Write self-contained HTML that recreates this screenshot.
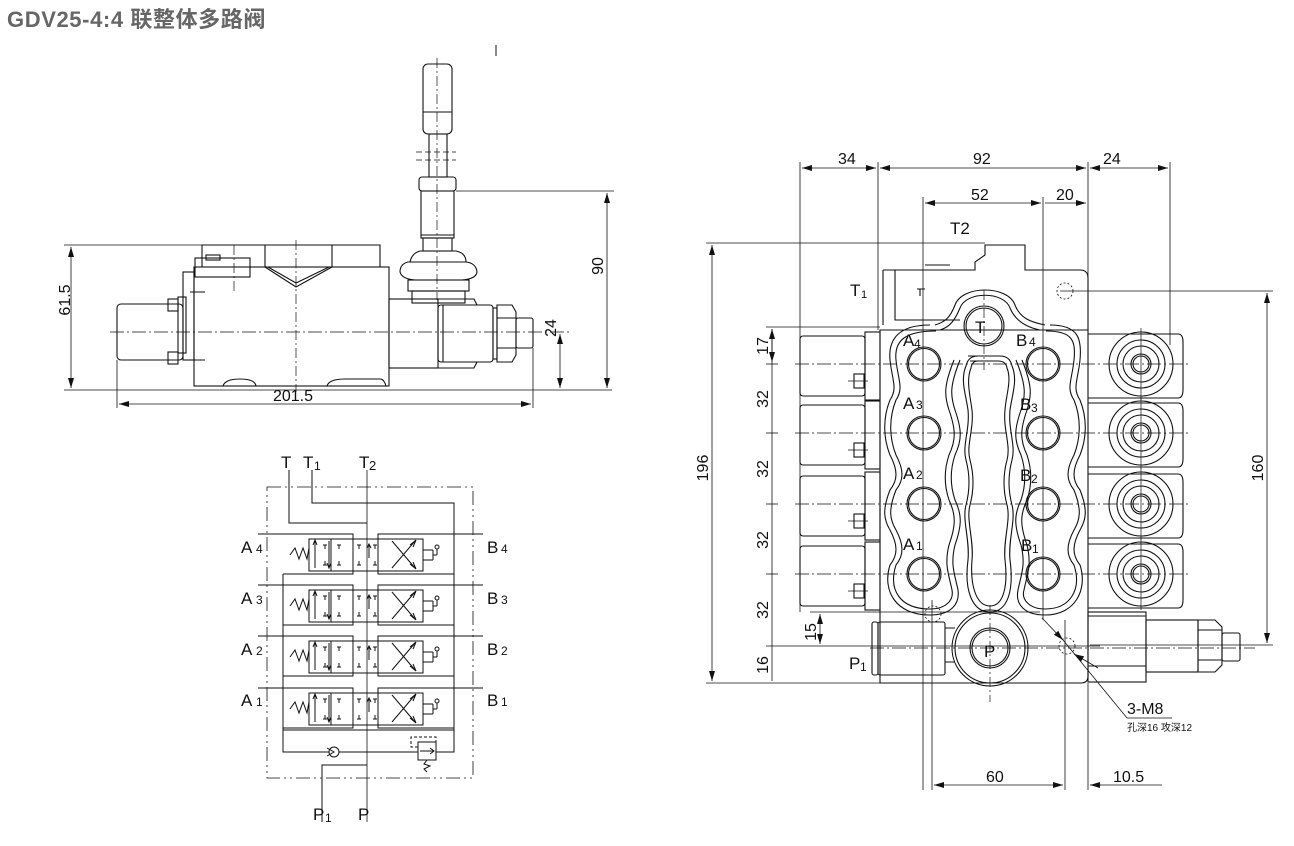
<!DOCTYPE html>
<html><head><meta charset="utf-8"><style>
html,body{margin:0;padding:0;background:#fff;}
svg{display:block;}
text{font-family:"Liberation Sans Narrow","Liberation Sans","Noto Sans CJK SC",sans-serif;fill:#111;}
</style></head><body>
<svg id="s" width="1294" height="846" viewBox="0 0 1294 846" xmlns="http://www.w3.org/2000/svg">
<defs>
<marker id="a" viewBox="0 0 10 6" refX="10" refY="3" markerWidth="10" markerHeight="6" orient="auto-start-reverse" markerUnits="userSpaceOnUse"><path d="M0,0L10,3L0,6z" fill="#111"/></marker>
</defs>
<text x="7" y="27" style="font-family:'Liberation Sans','Noto Sans CJK SC',sans-serif;font-weight:bold;font-size:22px;letter-spacing:0.6px;fill:#666">GDV25-4:4 联整体多路阀</text>
<line x1="496" y1="45" x2="496" y2="56" stroke="#111"/>

<!-- ================= SIDE VIEW ================= -->
<g fill="none" stroke="#111" stroke-width="1.1">
<line x1="64" y1="245" x2="380" y2="245" stroke-width=".8"/>
<line x1="64" y1="390" x2="612" y2="390" stroke-width=".8"/>
<line x1="71" y1="247" x2="71" y2="388" marker-start="url(#a)" marker-end="url(#a)" stroke-width=".8"/>
<line x1="117" y1="360" x2="117" y2="408" stroke-width=".8"/>
<line x1="533" y1="348" x2="533" y2="408" stroke-width=".8"/>
<line x1="119" y1="404" x2="531" y2="404" marker-start="url(#a)" marker-end="url(#a)" stroke-width=".8"/>
<line x1="456" y1="191" x2="614" y2="191" stroke-width=".8"/>
<line x1="607" y1="193" x2="607" y2="388" marker-start="url(#a)" marker-end="url(#a)" stroke-width=".8"/>
<line x1="560" y1="334" x2="560" y2="388" marker-start="url(#a)" marker-end="url(#a)" stroke-width=".8"/>
<line x1="110" y1="332" x2="570" y2="332" stroke-dasharray="14 3 2 3" stroke-width=".7"/>
<path d="M202,267 V245 H380 V267"/>
<rect x="194" y="267" width="195" height="119" />
<rect x="195" y="258" width="55" height="19"/>
<rect x="206" y="255" width="14" height="5"/>
<path d="M265,245 V267 M332,245 V267 M265,267 L296,287 L332,267 M268,267 L296,283 L329,267"/>
<line x1="296" y1="240" x2="296" y2="392" stroke-dasharray="10 3 2 3" stroke-width=".7"/>
<line x1="234" y1="245" x2="234" y2="293" stroke-dasharray="10 3 2 3" stroke-width=".7"/>
<path d="M223,386 Q225,379 240,379 Q255,379 256,386 M327,386 Q329,379 345,379 H380 Q384,379 386,386"/>
<rect x="183" y="272" width="11" height="88"/>
<rect x="178" y="297" width="8" height="56"/>
<rect x="168" y="299" width="10" height="12"/><rect x="168" y="352" width="10" height="12"/>
<path d="M190,292 H205 M190,360 H205"/>
<rect x="117" y="304" width="66" height="56" rx="4"/>
<rect x="389" y="299" width="49" height="69"/>
<rect x="438" y="305" width="55" height="57" rx="3"/>
<path d="M438,299 H474 L477,305 M438,368 H474 L477,362 M443,305 V362"/>
<rect x="493" y="308" width="4" height="51"/>
<path d="M497,305 H512 L516,312 V355 L512,362 H497 Z M497,318 H516 M497,348 H516"/>
<rect x="516" y="318" width="17" height="30" rx="2"/>
<rect x="423" y="64" width="29" height="70" rx="5"/>
<line x1="423" y1="112" x2="452" y2="112"/>
<rect x="429" y="134" width="18" height="43"/>
<line x1="416" y1="152" x2="456" y2="152" stroke-dasharray="6 3" stroke-width=".7"/>
<line x1="416" y1="160" x2="456" y2="160" stroke-dasharray="6 3" stroke-width=".7"/>
<rect x="419" y="177" width="37" height="14" rx="3"/>
<rect x="421" y="191" width="33" height="47"/>
<line x1="421" y1="235" x2="454" y2="235"/>
<rect x="423" y="238" width="29" height="13"/>
<path d="M408,262 Q400,264 400,272 Q402,279 415,280 H462 Q476,279 477,272 Q476,263 466,262 Z"/>
<path d="M410,262 Q412,253 420,251 H456 Q466,253 466,262"/>
<rect x="408" y="280" width="61" height="11"/>
<rect x="412" y="291" width="53" height="12"/>
<line x1="437" y1="58" x2="437" y2="300" stroke-dasharray="10 3 2 3" stroke-width=".7"/>
</g>
<text x="293" y="401" font-size="16" text-anchor="middle">201.5</text>
<text transform="translate(70,300) rotate(-90)" font-size="16" text-anchor="middle">61.5</text>
<text transform="translate(603,266) rotate(-90)" font-size="16" text-anchor="middle">90</text>
<text transform="translate(556,328) rotate(-90)" font-size="16" text-anchor="middle">24</text>

<!-- ================= SCHEMATIC ================= -->
<g id="sch" fill="none" stroke="#111" stroke-width="1">
<rect x="267" y="487" width="206" height="291" stroke-dasharray="14 4 2 4 2 4" stroke-width=".8"/>
<line x1="367" y1="470" x2="367" y2="822" stroke-width=".8"/>
<path d="M289,470 V523 H367"/>
<path d="M312,470 V503 H454 V752 H436"/>
<path d="M283,574 V752 H418"/>
<path d="M283,730 H454"/>
<path d="M322,822 V765 H367"/>
<circle cx="334" cy="752" r="5" fill="#fff"/>
<path d="M327,748 L334,752 L327,756"/>
<rect x="418" y="742" width="18" height="18" fill="#fff"/>
<path d="M420,751 H434 M430,748 L434,751 L430,754"/>
<path d="M418,747 H411 V737 H436 V742" stroke-dasharray="3 2"/>
<path d="M427,760 L424,764 L430,766 L424,769 L427,772"/>
</g>
<g font-size="17">
<text x="281" y="468">T</text><text x="303" y="468">T</text><text x="314" y="470" font-size="12">1</text>
<text x="359" y="468">T</text><text x="369" y="470" font-size="13">2</text>
<text x="313" y="820">P</text><text x="325" y="822" font-size="12">1</text>
<text x="358" y="820">P</text>
<text x="241" y="553">A</text><text x="256" y="553" font-size="12">4</text>
<text x="241" y="604">A</text><text x="256" y="604" font-size="12">3</text>
<text x="241" y="655">A</text><text x="256" y="655" font-size="12">2</text>
<text x="241" y="706">A</text><text x="256" y="706" font-size="12">1</text>
<text x="487" y="553">B</text><text x="501" y="553" font-size="12">4</text>
<text x="487" y="604">B</text><text x="501" y="604" font-size="12">3</text>
<text x="487" y="655">B</text><text x="501" y="655" font-size="12">2</text>
<text x="487" y="706">B</text><text x="501" y="706" font-size="12">1</text>
</g>

<!-- ================= FRONT VIEW ================= -->
<g id="fr" fill="none" stroke="#111" stroke-width="1.1">
<g stroke-width=".8">
<line x1="800" y1="162" x2="800" y2="612"/><line x1="878" y1="162" x2="878" y2="330"/>
<line x1="1088" y1="162" x2="1088" y2="330"/><line x1="1170" y1="162" x2="1170" y2="345"/>
<line x1="802" y1="168" x2="876" y2="168" marker-start="url(#a)" marker-end="url(#a)"/>
<line x1="880" y1="168" x2="1086" y2="168" marker-start="url(#a)" marker-end="url(#a)"/>
<line x1="1090" y1="168" x2="1168" y2="168" marker-start="url(#a)" marker-end="url(#a)"/>
<line x1="923" y1="197" x2="923" y2="790"/><line x1="1043" y1="197" x2="1043" y2="620"/>
<line x1="925" y1="203" x2="1041" y2="203" marker-start="url(#a)" marker-end="url(#a)"/>
<line x1="1045" y1="203" x2="1086" y2="203" marker-end="url(#a)"/>
<line x1="706" y1="243" x2="985" y2="243"/><line x1="706" y1="683" x2="880" y2="683"/>
<line x1="712" y1="245" x2="712" y2="681" marker-start="url(#a)" marker-end="url(#a)"/>
<line x1="1060" y1="291" x2="1273" y2="291"/><line x1="1090" y1="645" x2="1273" y2="645"/>
<line x1="1267" y1="293" x2="1267" y2="643" marker-start="url(#a)" marker-end="url(#a)"/>
<line x1="766" y1="327" x2="880" y2="327"/>
<line x1="772" y1="329" x2="772" y2="681"/>
<line x1="810" y1="612" x2="1040" y2="612"/>
<line x1="766" y1="646" x2="1100" y2="646"/>
<line x1="820" y1="614" x2="820" y2="644" marker-start="url(#a)" marker-end="url(#a)"/>
<line x1="932" y1="790" x2="932" y2="600"/><line x1="1065" y1="620" x2="1065" y2="790"/>
<line x1="1088" y1="683" x2="1088" y2="790"/>
<line x1="934" y1="785" x2="1063" y2="785" marker-start="url(#a)" marker-end="url(#a)"/>
<line x1="1102" y1="785" x2="1090" y2="785" marker-end="url(#a)"/>
<line x1="1102" y1="785" x2="1162" y2="785"/>
<line x1="1042" y1="618" x2="1063" y2="640" marker-end="url(#a)"/>
<line x1="1098" y1="668" x2="1074" y2="654" marker-end="url(#a)"/>
<path d="M1063,640 L1127,718 H1172"/>
</g>
<path d="M880,683 V330 H1088 V676 Q1088,683 1081,683 Z"/>
<path d="M883,270 H975 V262 L985,255 V245 H1025 V270 L1080,270 Q1088,270 1088,278 V330 M883,270 V325"/>
<path d="M895,270 V320 H960 M925,265 H950"/>
<path d="M920,289 V296 M917,289 H925"/>
<circle cx="1065" cy="291" r="8" stroke-dasharray="2 2" stroke-width=".8"/>
<circle cx="933" cy="614" r="8" stroke-dasharray="2 2" stroke-width=".8"/>
<circle cx="1067" cy="646" r="8" stroke-dasharray="2 2" stroke-width=".8"/>
<path d="M930,325 C900,325 888,338 890,360 C892,380 898,388 890,400 C882,420 884,440 890,455 C898,470 898,480 890,490 C882,510 884,520 890,530 C898,545 898,555 890,565 C882,590 895,615 930,615 C950,615 960,605 958,590 C955,575 950,565 955,545 C962,525 962,515 955,500 C950,485 950,470 955,455 C962,440 962,430 955,410 C950,395 950,385 960,360"/>
<path d="M936,331 C906,331 894,340 896,360 C898,380 904,388 896,400 C888,420 890,440 896,455 C904,470 904,480 896,490 C888,510 890,520 896,530 C904,545 904,555 896,565 C888,590 900,609 930,609 C946,609 954,600 952,590 C949,575 944,565 949,545 C956,525 956,515 949,500 C944,485 944,470 949,455 C956,440 956,430 949,410 C944,395 944,385 954,360"/>
<path d="M1050,325 C1078,325 1082,338 1080,360 C1078,380 1072,388 1080,400 C1088,420 1086,440 1080,455 C1072,470 1072,480 1080,490 C1088,510 1086,520 1080,530 C1072,545 1072,555 1080,565 C1088,590 1075,615 1045,615 C1025,615 1015,605 1018,590 C1021,575 1026,565 1021,545 C1014,525 1014,515 1021,500 C1026,485 1026,470 1021,455 C1014,440 1014,430 1021,410 C1026,395 1026,385 1016,360"/>
<path d="M1046,331 C1072,331 1076,340 1074,360 C1072,380 1066,388 1074,400 C1082,420 1080,440 1074,455 C1066,470 1066,480 1074,490 C1082,510 1080,520 1074,530 C1066,545 1066,555 1074,565 C1082,590 1070,609 1045,609 C1030,609 1021,600 1024,590 C1027,575 1032,565 1027,545 C1020,525 1020,515 1027,500 C1032,485 1032,470 1027,455 C1020,440 1020,430 1027,410 C1032,395 1032,385 1022,360"/>
<path d="M935,325 C945,322 950,318 955,305 C962,285 1008,285 1015,305 C1020,318 1030,322 1045,325"/>
<path d="M940,330 C950,327 955,320 960,308 C966,291 1004,291 1010,308 C1015,320 1025,327 1040,330"/>
<path d="M968,356 H1000 Q1010,356 1012,366 C1018,380 1012,395 1010,410 C1008,430 1016,445 1012,460 C1008,475 1008,490 1012,505 C1016,520 1008,540 1010,560 C1014,590 1008,612 990,612 C972,612 964,590 968,560 C970,540 962,520 966,505 C970,490 970,475 966,460 C962,445 970,430 968,410 C966,395 960,380 966,366 Q968,356 978,356 Z"/>
<path d="M970,361 H998 Q1006,361 1007,368 C1012,380 1006,395 1005,410 C1003,430 1011,445 1007,460 C1003,475 1003,490 1007,505 C1011,520 1003,540 1005,560 C1008,585 1004,606 990,606 C976,606 970,585 972,560 C974,540 966,520 970,505 C974,490 974,475 970,460 C966,445 974,430 972,410 C970,395 966,380 971,368 Q972,361 978,361 Z"/>
<circle cx="984" cy="326" r="20"/><circle cx="984" cy="326" r="18"/>
<circle cx="990" cy="648" r="38"/><circle cx="990" cy="648" r="35"/>
<circle cx="990" cy="648" r="20"/><circle cx="990" cy="648" r="18"/>
<rect x="872" y="622" width="6" height="53" rx="2"/>
<rect x="878" y="622" width="67" height="53" rx="2"/>
<path d="M945,628 H955 M945,662 H955"/>
<rect x="1088" y="612" width="58" height="70"/>
<path d="M1088,616 H1146 M1088,666 H1146"/>
<rect x="1146" y="620" width="52" height="52"/>
<path d="M1198,620 H1215 L1222,627 V665 L1215,672 H1198 Z M1198,630 H1222 M1198,660 H1222"/>
<rect x="1222" y="633" width="18" height="28" rx="2"/>
<line x1="870" y1="648" x2="1255" y2="648" stroke-dasharray="14 3 2 3" stroke-width=".7"/>
<line x1="984" y1="290" x2="984" y2="370" stroke-dasharray="10 3 2 3" stroke-width=".7"/>
<line x1="990" y1="605" x2="990" y2="702" stroke-dasharray="10 3 2 3" stroke-width=".7"/>
</g>
<g font-size="17">
<text x="838" y="164" font-size="16">34</text><text x="973" y="164" font-size="16">92</text><text x="1103" y="164" font-size="16">24</text>
<text x="971" y="200" font-size="16">52</text><text x="1056" y="200" font-size="16">20</text>
<text x="950" y="234">T2</text>
<text x="850" y="296">T</text><text x="861" y="298" font-size="11">1</text>
<text x="849" y="669">P</text><text x="860" y="671" font-size="12">1</text>
<text x="975" y="333">T</text><text x="984" y="657">P</text>
<text x="903" y="346">A</text><text x="914" y="348" font-size="12">4</text>
<text x="903" y="409">A</text><text x="916" y="409" font-size="12">3</text>
<text x="903" y="479">A</text><text x="916" y="479" font-size="12">2</text>
<text x="903" y="550">A</text><text x="916" y="550" font-size="12">1</text>
<text x="1016" y="346">B</text><text x="1029" y="346" font-size="12">4</text>
<text x="1020" y="410">B</text><text x="1031" y="412" font-size="12">3</text>
<text x="1020" y="481">B</text><text x="1031" y="483" font-size="12">2</text>
<text x="1021" y="551">B</text><text x="1032" y="553" font-size="12">1</text>
<text x="1127" y="714" font-size="16">3-M8</text>
<text x="1127" y="731" font-size="10" style="font-family:'Liberation Sans','Noto Sans CJK SC',sans-serif">孔深16 攻深12</text>
<text x="986" y="782" font-size="16">60</text><text x="1113" y="782" font-size="16">10.5</text>
<text transform="translate(708,468) rotate(-90)" font-size="16" text-anchor="middle">196</text>
<text transform="translate(1263,468) rotate(-90)" font-size="16" text-anchor="middle">160</text>
<g font-size="16" text-anchor="middle">
<text transform="translate(768,346) rotate(-90)">17</text>
<text transform="translate(768,399) rotate(-90)">32</text>
<text transform="translate(768,469) rotate(-90)">32</text>
<text transform="translate(768,540) rotate(-90)">32</text>
<text transform="translate(768,610) rotate(-90)">32</text>
<text transform="translate(816,632) rotate(-90)">15</text>
<text transform="translate(768,665) rotate(-90)">16</text>
</g>
</g>
</svg>
<script>
(function(){
var s=document.getElementById('sch'),f=document.getElementById('fr'),NS='http://www.w3.org/2000/svg';
function add(p,tag,at){var e=document.createElementNS(NS,tag);for(var k in at)e.setAttribute(k,at[k]);p.appendChild(e);return e;}
var rows=[534,585,636,688];
rows.forEach(function(y,i){
  var g=add(s,'g',{transform:'translate(0,'+(y-534)+')'});
  add(g,'path',{d:'M258,534 H353 V539 M378,539 V534 H483'});
  add(g,'rect',{x:309,y:539,width:44,height:32});
  add(g,'line',{x1:331,y1:539,x2:331,y2:571});
  add(g,'rect',{x:378,y:539,width:45,height:32});
  add(g,'path',{d:'M353,539 H378 M353,571 H378 M290,555 L295,548 L299,559 L303,548 L307,559 L309,548'});
  add(g,'path',{d:'M315,568 V541 M313,545 L315,540 L317,545 M329,541 V568 M327,563 L329,568 L331,563 M323,545 H327 M325,545 V549 M323,565 H327 M325,565 V561'});
  add(g,'path',{d:'M337,545 H341 M339,545 V549 M337,565 H341 M339,565 V561 M357,545 H361 M359,545 V549 M357,565 H361 M359,565 V561 M369,545 V558 M367,548 L369,544 L371,548 M373,545 H377 M375,545 V549 M373,565 H377 M375,565 V561'});
  add(g,'path',{d:'M392,541 L415,568 M392,568 L415,541 M410,545 L416,540 L413,547 M410,564 L416,569 L413,562'});
  add(g,'path',{d:'M423,550 H433 M423,560 H433 M433,550 V560 M433,555 H437 M437,555 V549'});
  add(g,'circle',{cx:437,cy:547,r:2});
  add(g,'path',{d:'M353,571 V574 H283 M378,571 V574 H454'});
});
var ry=[364,433,504,574];
ry.forEach(function(y){
  add(f,'circle',{cx:924,cy:y,r:17});add(f,'circle',{cx:924,cy:y,r:15.5});
  add(f,'circle',{cx:1043,cy:y,r:17});add(f,'circle',{cx:1043,cy:y,r:15.5});
  add(f,'line',{x1:795,y1:y,x2:1190,y2:y,'stroke-dasharray':'14 3 2 3','stroke-width':'.7'});
  add(f,'line',{x1:766,y1:y,x2:778,y2:y,'stroke-width':'.8'});
  add(f,'rect',{x:800,y:y-28,width:65,height:60,rx:3});
  add(f,'rect',{x:865,y:y-32,width:15,height:68});
  add(f,'rect',{x:854,y:y+10,width:10,height:14});
  add(f,'line',{x1:848,y1:y+17,x2:868,y2:y+17,'stroke-width':'.7'});
  add(f,'path',{d:'M1088,'+(y-30)+' H1140 M1088,'+(y+34)+' H1140'});
  add(f,'path',{d:'M1140,'+(y-30)+' H1178 Q1183,'+(y-30)+' 1183,'+(y-22)+' V'+(y+26)+' Q1183,'+(y+34)+' 1178,'+(y+34)+' H1140'});
  add(f,'circle',{cx:1141,cy:y,r:32});add(f,'circle',{cx:1141,cy:y,r:24});
  add(f,'circle',{cx:1141,cy:y,r:18});add(f,'circle',{cx:1141,cy:y,r:10});add(f,'circle',{cx:1141,cy:y,r:8});
  add(f,'line',{x1:1141,y1:y-36,x2:1141,y2:y+36,'stroke-width':'.7'});
});
add(f,'line',{x1:772,y1:329,x2:772,y2:362,'marker-start':'url(#a)','marker-end':'url(#a)','stroke-width':'.8'});
})();
</script>
</body></html>
